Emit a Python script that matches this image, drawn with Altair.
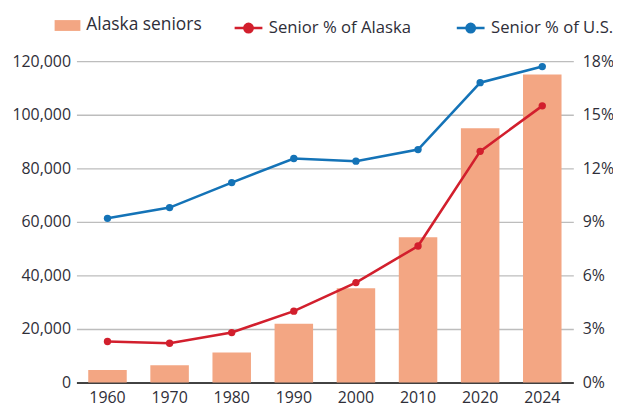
import altair as alt
import pandas as pd

years = ["1960", "1970", "1980", "1990", "2000", "2010", "2020", "2024"]
alaska_seniors = [4700, 6500, 11200, 22000, 35200, 54300, 95000, 115000]
pct_alaska = [2.3, 2.2, 2.8, 4.0, 5.6, 7.65, 12.95, 15.5]
pct_us = [9.2, 9.8, 11.2, 12.55, 12.4, 13.05, 16.8, 17.7]

bar_label = "Alaska seniors"
line_labels = ["Senior % of Alaska", "Senior % of U.S."]
left_ticks = [0, 20000, 40000, 60000, 80000, 100000, 120000]
right_ticks = [0, 3, 6, 9, 12, 15, 18]

BAR = "#F3A683"
RED = "#D21F2D"
BLUE = "#1473B7"
TXT = "#2E2E38"
FONT = "Open Sans"

bars_df = pd.DataFrame({"year": years, "value": alaska_seniors, "series": bar_label})
lines_df = pd.DataFrame({
    "year": years * 2,
    "pct": pct_alaska + pct_us,
    "series": [line_labels[0]] * len(years) + [line_labels[1]] * len(years),
})

x_enc = alt.X(
    "year:N",
    sort=years,
    scale=alt.Scale(paddingInner=0.38, paddingOuter=0.19),
    axis=alt.Axis(
        title=None, labelAngle=0, ticks=False, labelPadding=7,
        domainColor="#111111", domainWidth=1.6,
        labelFont=FONT, labelFontSize=16, labelColor=TXT,
    ),
)

bars = alt.Chart(bars_df).mark_bar(color=BAR).encode(
    x=x_enc,
    y=alt.Y(
        "value:Q",
        scale=alt.Scale(domain=[0, 120000], nice=False),
        axis=alt.Axis(
            title=None, values=left_ticks, format=",.0f", orient="left",
            domain=False, ticks=False, labelPadding=6,
            grid=True, gridColor="#BDBDBD", gridWidth=1.3,
            labelFont=FONT, labelFontSize=16, labelColor=TXT,
        ),
    ),
    fill=alt.Fill(
        "series:N",
        scale=alt.Scale(domain=[bar_label], range=[BAR]),
        legend=alt.Legend(
            title=None, orient="none", legendX=-22, legendY=-49,
            symbolType="M-1,-0.42H1V0.42H-1Z", symbolSize=676,
            symbolStrokeWidth=0, labelOffset=6,
            labelFont=FONT, labelFontSize=17.5, labelColor=TXT,
        ),
    ),
)

y_pct = alt.Y(
    "pct:Q",
    scale=alt.Scale(domain=[0, 18], nice=False),
    axis=alt.Axis(
        title=None, values=right_ticks, orient="right",
        labelExpr="datum.value + '%'",
        domain=False, ticks=False, grid=False, labelPadding=9,
        labelFont=FONT, labelFontSize=16, labelColor=TXT,
    ),
)
color_enc = alt.Color(
    "series:N",
    scale=alt.Scale(domain=line_labels, range=[RED, BLUE]),
    legend=alt.Legend(
        title=None, orient="none", legendX=158, legendY=-49,
        direction="horizontal", columns=2, columnPadding=40,
        symbolType="M-1,0H1M0.3,0A0.3,0.3,0,1,1,-0.3,0A0.3,0.3,0,1,1,0.3,0Z",
        symbolSize=784, symbolStrokeWidth=2.6, labelOffset=5,
        labelFont=FONT, labelFontSize=16.8, labelColor=TXT, labelLimit=300,
    ),
)

line_layer = alt.Chart(lines_df).mark_line(strokeWidth=2.6).encode(
    x=x_enc, y=y_pct, color=color_enc
)
point_layer = alt.Chart(lines_df).mark_point(filled=True, size=55, opacity=1).encode(
    x=x_enc, y=y_pct, color=color_enc
)
lines = alt.layer(line_layer, point_layer)

chart = alt.layer(bars, lines).resolve_scale(
    y="independent", color="independent", fill="independent"
).properties(
    width=501,
    height=324,
    autosize=alt.AutoSizeParams(type="none"),
    padding={"left": 69, "top": 52, "right": 40, "bottom": 24},
).configure_view(stroke=None)

chart.save("out.html", embed_options={"renderer": "svg", "actions": False})
